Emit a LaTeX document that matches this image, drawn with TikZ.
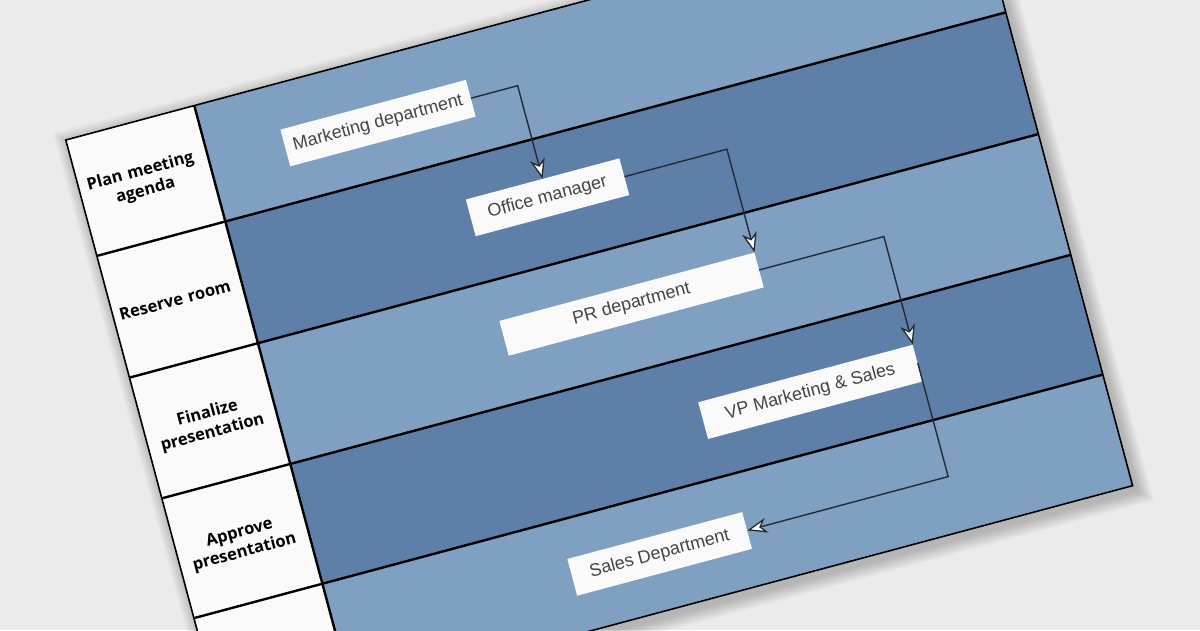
\documentclass[tikz,border=0pt]{standalone}
\usepackage{fontspec}
\setmainfont{Liberation Sans}
\newfontfamily\headfont{Open Sans}
\usetikzlibrary{arrows.meta}
\definecolor{bggray}{HTML}{EBEBEB}
\definecolor{lanelight}{HTML}{7FA0C0}
\definecolor{lanedark}{HTML}{5D7FA8}
\definecolor{cellwhite}{HTML}{FAFAFA}
\definecolor{boxtext}{HTML}{454545}
\definecolor{flowline}{HTML}{222B36}
\begin{document}
\begin{tikzpicture}[x=1pt,y=1pt,
    dept/.style={fill=cellwhite, text=boxtext, font=\fontsize{18}{21}\selectfont, inner sep=0pt, minimum height=38pt},
    phase/.style={text=black, font=\headfont\bfseries\fontsize{16.5}{20}\selectfont, align=center, text width=128pt},
    laneline/.style={line width=2.4pt, black},
    flow/.style={draw=flowline, line width=1.4pt, -{Stealth[length=20pt,width=15pt,inset=6pt,fill=white,line width=1.3pt]}}]
  \clip (0,0) rectangle (1200,-630);
  \fill[bggray] (0,0) rectangle (1200,-630);
  \begin{scope}[transform canvas={shift={(65.8,-140)},rotate=15}]
    % soft shadow under the table
    \foreach \i in {1,...,14}
      \fill[black,opacity=0.016] (-\i+3,\i-4) rectangle (941+\i+3,-610-\i-6);
    % table body
    \foreach \top/\bot/\col in {0/-120/lanelight,-120/-246/lanedark,-246/-371/lanelight,-371/-495/lanedark,-495/-610/lanelight}{
      \fill[\col] (133,\top) rectangle (941,\bot);
      \fill[cellwhite] (0,\top) rectangle (133,\bot);
    }
    \foreach \y in {-120,-246,-371,-495}
      \draw[laneline] (0,\y) -- (941,\y);
    \draw[laneline] (133,0) -- (133,-610);
    \draw[line width=1.6pt] (0,0) rectangle (941,-610);
    % phases
    \node[phase] (plan) at (64,-60) {Plan meeting\\agenda};
    \node[phase] (reserve) at (64,-183) {Reserve room};
    \node[phase] (finalize) at (66,-311) {Finalize\\presentation};
    \node[phase] (approve) at (66,-435) {Approve\\presentation};
    % departments
    \node[dept, minimum width=192pt] (mkt) at (306,-64.5) {Marketing department};
    \node[dept, minimum width=159pt] (office) at (450.5,-180) {Office manager};
    \node[dept, minimum width=264pt, minimum height=36pt] (pr) at (504,-305) {PR department};
    \node[dept, minimum width=222pt] (vp) at (654,-436) {VP Marketing \& Sales};
    \node[dept, minimum width=181pt] (sales) at (466.5,-553.5) {Sales Department};
    \draw[flow] (mkt.east) -| (office.north);
    \draw[flow] (office.east) -| (pr.north east);
    \draw[flow] (pr.east) -| (vp.north east);
    \draw[flow] (vp.east) |- (sales.east);
  \end{scope}
\end{tikzpicture}
\end{document}
